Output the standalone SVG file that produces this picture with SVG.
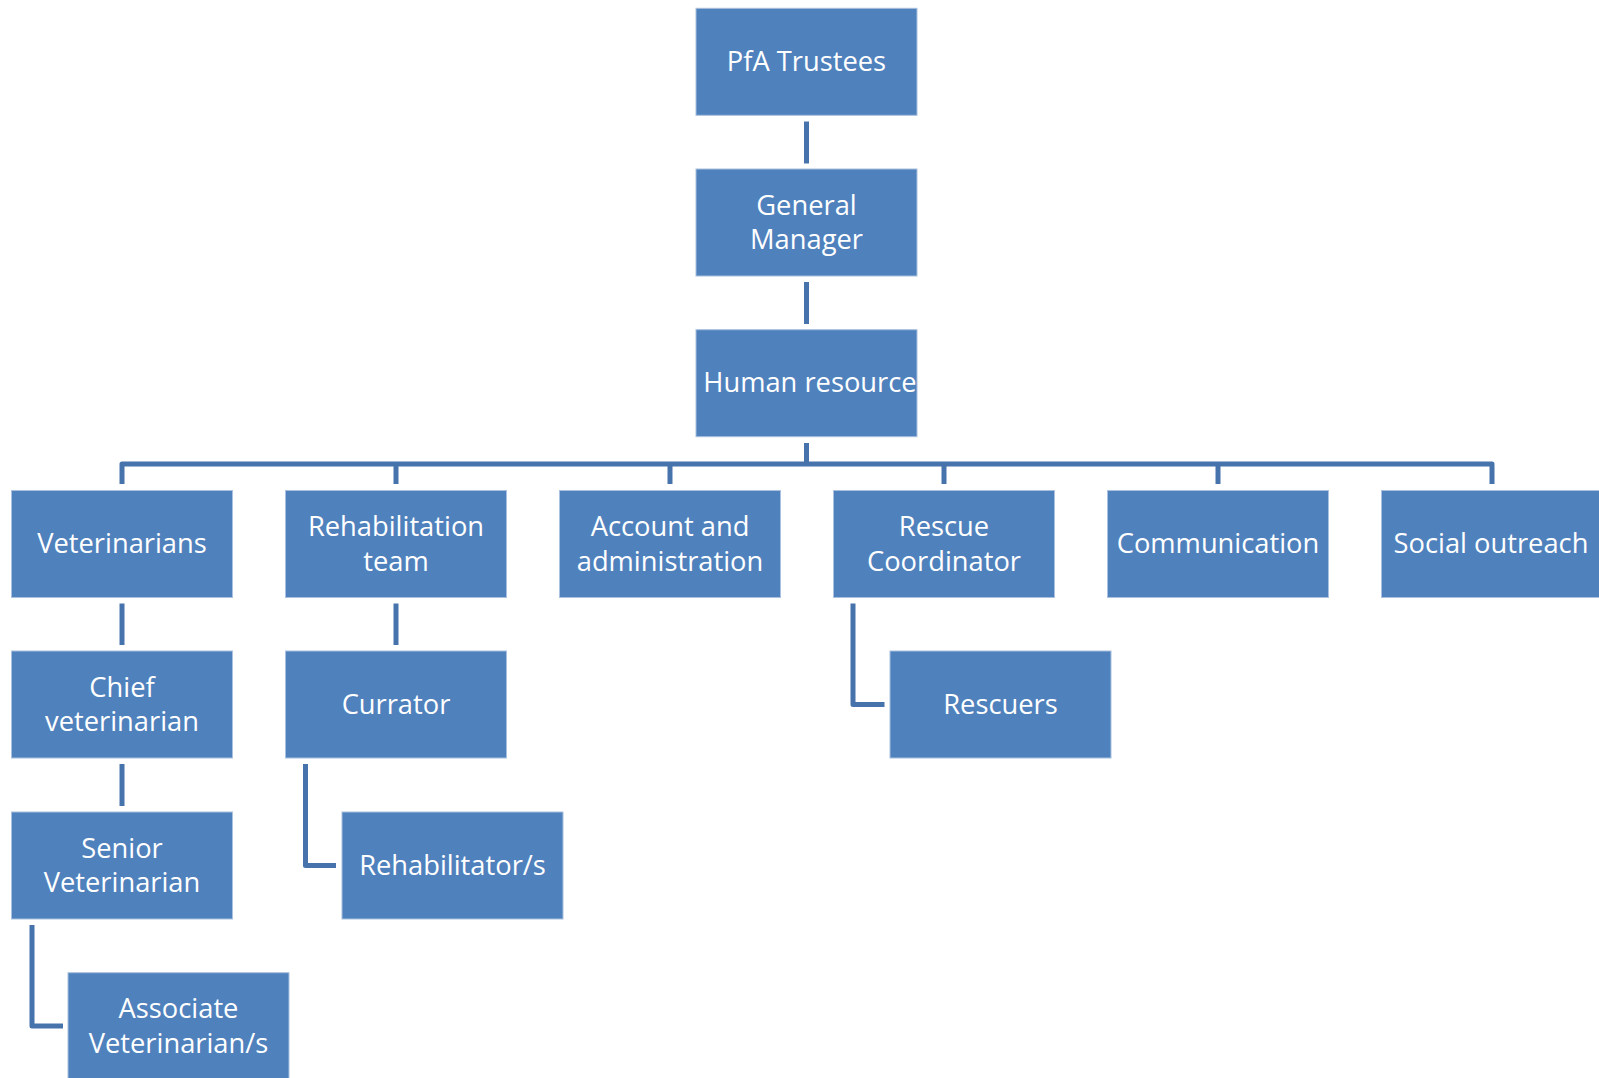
<svg xmlns="http://www.w3.org/2000/svg" width="1599" height="1078" viewBox="0 0 1599 1078">
<style>
.box{fill:#4F81BD;stroke:#A9C0DE;stroke-width:1}
.lbl{font-family:"Open Sans","Liberation Sans",sans-serif;font-size:27.3px;fill:#FFFFFF;text-anchor:middle}
.con{fill:none;stroke:#4673AB;stroke-width:5;stroke-linejoin:round}
</style>
<rect width="1599" height="1078" fill="#FFFFFF"/>
<g id="connectors">
<path class="con" d="M806.5,121.5V163.5"/>
<path class="con" d="M806.5,282V324"/>
<path class="con" d="M806.5,443V464"/>
<path class="con" d="M122,484V464H1492V484"/>
<path class="con" d="M396,464V484"/>
<path class="con" d="M670,464V484"/>
<path class="con" d="M944,464V484"/>
<path class="con" d="M1218,464V484"/>
<path class="con" d="M122,603.5V645"/>
<path class="con" d="M122,764V806"/>
<path class="con" d="M396,603.5V645"/>
<path class="con" d="M32,925V1026H63"/>
<path class="con" d="M305.5,764V865.5H336"/>
<path class="con" d="M853,603.5V704.5H884.5"/>
</g>
<g id="pfa-trustees"><rect class="box" x="696" y="8.3" width="221" height="107"/><text class="lbl" x="806.5" y="71">PfA Trustees</text></g>
<g id="general-manager"><rect class="box" x="696" y="169" width="221" height="107"/><text class="lbl" x="806.5" y="214.5">General</text><text class="lbl" x="806.5" y="249.2">Manager</text></g>
<g id="human-resource"><rect class="box" x="696" y="329.7" width="221" height="107"/><text class="lbl" x="810" y="392">Human resource</text></g>
<g id="veterinarians"><rect class="box" x="11.5" y="490.5" width="221" height="107"/><text class="lbl" x="122" y="553">Veterinarians</text></g>
<g id="rehabilitation-team"><rect class="box" x="285.5" y="490.5" width="221" height="107"/><text class="lbl" x="396" y="536">Rehabilitation</text><text class="lbl" x="396" y="570.7">team</text></g>
<g id="account-administration"><rect class="box" x="559.5" y="490.5" width="221" height="107"/><text class="lbl" x="670" y="536">Account and</text><text class="lbl" x="670" y="570.7">administration</text></g>
<g id="rescue-coordinator"><rect class="box" x="833.5" y="490.5" width="221" height="107"/><text class="lbl" x="944" y="536">Rescue</text><text class="lbl" x="944" y="570.7">Coordinator</text></g>
<g id="communication"><rect class="box" x="1107.5" y="490.5" width="221" height="107"/><text class="lbl" x="1218" y="553">Communication</text></g>
<g id="social-outreach"><rect class="box" x="1381.5" y="490.5" width="221" height="107"/><text class="lbl" x="1491" y="553">Social outreach</text></g>
<g id="chief-veterinarian"><rect class="box" x="11.5" y="651" width="221" height="107"/><text class="lbl" x="122" y="696.5">Chief</text><text class="lbl" x="122" y="731.2">veterinarian</text></g>
<g id="currator"><rect class="box" x="285.5" y="651" width="221" height="107"/><text class="lbl" x="396" y="713.5">Currator</text></g>
<g id="rescuers"><rect class="box" x="890" y="651" width="221" height="107"/><text class="lbl" x="1000.5" y="713.5">Rescuers</text></g>
<g id="senior-veterinarian"><rect class="box" x="11.5" y="812" width="221" height="107"/><text class="lbl" x="122" y="857.5">Senior</text><text class="lbl" x="122" y="892.2">Veterinarian</text></g>
<g id="rehabilitators"><rect class="box" x="342" y="812" width="221" height="107"/><text class="lbl" x="452.5" y="874.5">Rehabilitator/s</text></g>
<g id="associate-veterinarians"><rect class="box" x="68" y="972.7" width="221" height="107"/><text class="lbl" x="178.5" y="1018">Associate</text><text class="lbl" x="178.5" y="1052.7">Veterinarian/s</text></g>
</svg>
